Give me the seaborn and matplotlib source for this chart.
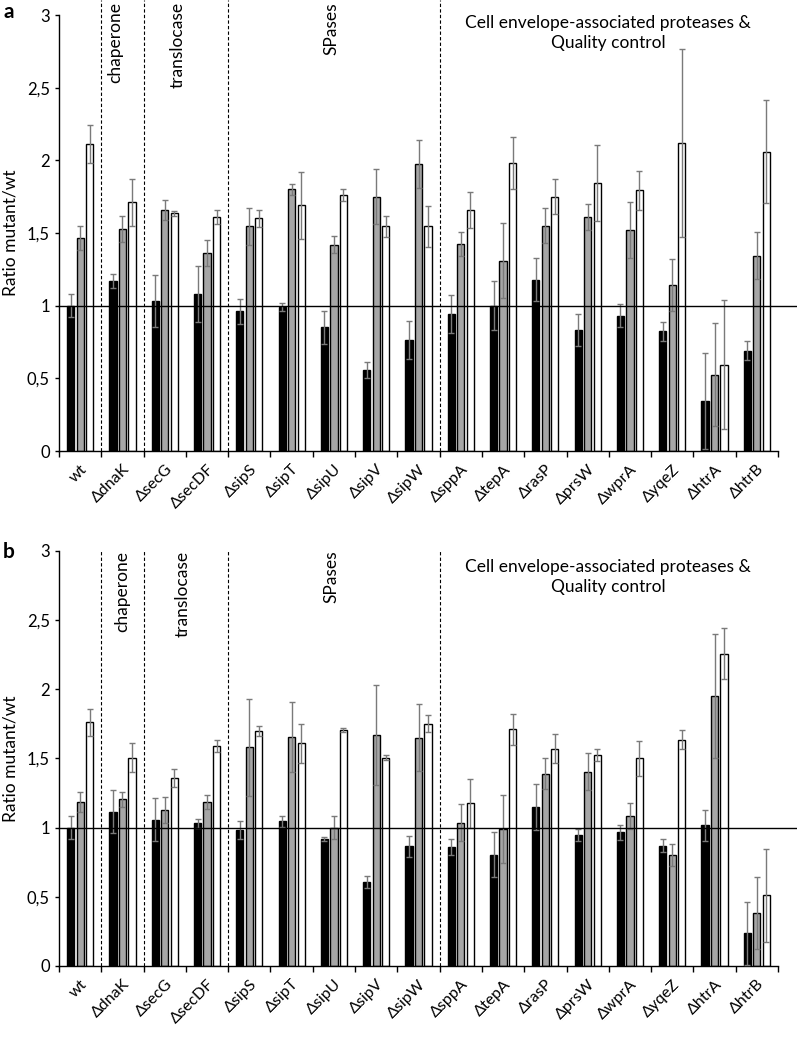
import numpy as np
import pandas as pd
import matplotlib
matplotlib.use('Agg')
import matplotlib.pyplot as plt
import seaborn as sns

# strains (x categories)
genes = ['wt', 'ΔdnaK', 'ΔsecG', 'ΔsecDF', 'ΔsipS', 'ΔsipT', 'ΔsipU', 'ΔsipV', 'ΔsipW',
         'ΔsppA', 'ΔtepA', 'ΔrasP', 'ΔprsW', 'ΔwprA', 'ΔyqeZ', 'ΔhtrA', 'ΔhtrB']
series = ['black', 'grey', 'white']

# panel a - means
a_black = [1.00, 1.17, 1.03, 1.08, 0.96, 0.99, 0.85, 0.555, 0.765, 0.94, 1.00, 1.18, 0.835, 0.93, 0.825, 0.345, 0.69]
a_grey = [1.465, 1.53, 1.66, 1.36, 1.545, 1.80, 1.42, 1.75, 1.975, 1.425, 1.31, 1.55, 1.61, 1.52, 1.14, 0.525, 1.345]
a_white = [2.11, 1.71, 1.635, 1.61, 1.60, 1.69, 1.76, 1.545, 1.545, 1.66, 1.98, 1.75, 1.845, 1.795, 2.12, 0.595, 2.06]
# panel a - error (+/-)
a_black_err = [0.08, 0.05, 0.18, 0.19, 0.085, 0.03, 0.115, 0.055, 0.13, 0.13, 0.17, 0.15, 0.11, 0.08, 0.065, 0.33, 0.065]
a_grey_err = [0.085, 0.09, 0.07, 0.09, 0.125, 0.04, 0.06, 0.19, 0.165, 0.08, 0.26, 0.12, 0.09, 0.19, 0.18, 0.355, 0.16]
a_white_err = [0.13, 0.16, 0.015, 0.05, 0.06, 0.23, 0.04, 0.075, 0.14, 0.125, 0.18, 0.12, 0.26, 0.135, 0.645, 0.445, 0.355]

# panel b - means
b_black = [1.00, 1.115, 1.055, 1.03, 0.98, 1.045, 0.915, 0.605, 0.865, 0.86, 0.805, 1.15, 0.945, 0.965, 0.87, 1.015, 0.235]
b_grey = [1.185, 1.205, 1.125, 1.185, 1.58, 1.655, 1.00, 1.67, 1.65, 1.035, 0.99, 1.39, 1.405, 1.085, 0.80, 1.95, 0.385]
b_white = [1.76, 1.505, 1.36, 1.59, 1.70, 1.61, 1.705, 1.505, 1.75, 1.175, 1.71, 1.57, 1.525, 1.50, 1.635, 2.255, 0.51]
# panel b - error (+/-)
b_black_err = [0.085, 0.155, 0.155, 0.03, 0.065, 0.04, 0.015, 0.045, 0.075, 0.06, 0.165, 0.165, 0.045, 0.055, 0.05, 0.11, 0.225]
b_grey_err = [0.07, 0.055, 0.095, 0.05, 0.35, 0.25, 0.08, 0.36, 0.24, 0.135, 0.245, 0.11, 0.135, 0.095, 0.08, 0.445, 0.26]
b_white_err = [0.10, 0.105, 0.065, 0.045, 0.035, 0.14, 0.015, 0.02, 0.06, 0.175, 0.11, 0.105, 0.045, 0.125, 0.07, 0.185, 0.335]

bar_colors = ['#000000', '#a6a6a6', '#ffffff']
err_color = '#7a7a7a'

plt.rcParams['font.family'] = ['Lato', 'DejaVu Sans']


def make_df(means, errs):
    rows = []
    for s, m, e in zip(series, means, errs):
        for g, v, ev in zip(genes, m, e):
            rows.append({'gene': g, 'series': s, 'value': v, 'err': ev})
    return pd.DataFrame(rows)


def draw_panel(ax, df, label_pos, dash_top, env_y):
    sns.barplot(data=df, x='gene', y='value', hue='series', order=genes, hue_order=series,
                palette=bar_colors, width=0.675, gap=0.245, edgecolor='black', linewidth=1,
                errorbar=None, legend=False, ax=ax, zorder=2)

    # error bars on top of each bar, taken from the bar containers
    for cont, s in zip(ax.containers, series):
        sub = df[df['series'] == s].set_index('gene').loc[genes]
        xs = [p.get_x() + p.get_width() / 2 for p in cont.patches]
        ys = [p.get_height() for p in cont.patches]
        ax.errorbar(xs, ys, yerr=sub['err'].values, fmt='none', ecolor=err_color,
                    elinewidth=1, capsize=2.5, capthick=1, zorder=3)

    ax.set_xlim(-0.5, 16.5)
    ax.set_ylim(0, 3)
    yt = np.arange(0, 3.01, 0.5)
    ax.set_yticks(yt)
    ax.set_yticklabels([('%g' % t).replace('.', ',') for t in yt], fontsize=12)
    ax.set_xticks(range(len(genes)))
    ax.set_xticklabels(genes, rotation=45, ha='right', rotation_mode='anchor', fontsize=11.5)
    ax.set_xticks(np.arange(-0.5, 17, 1), minor=True)
    ax.tick_params(axis='x', which='major', length=0, pad=8)
    ax.tick_params(axis='x', which='minor', length=4, width=1)
    ax.tick_params(axis='y', length=3, width=1)
    ax.set_xlabel('')
    ax.set_ylabel('Ratio mutant/wt', fontsize=12.5, labelpad=6)
    sns.despine(ax=ax)
    for sp in ['left', 'bottom']:
        ax.spines[sp].set_linewidth(1)

    # reference line at ratio 1
    ax.plot([-0.5, 16.95], [1, 1], color='black', lw=1, clip_on=False, zorder=4)

    # group separators
    for xb in [0.5, 1.5, 3.5, 8.5]:
        ax.plot([xb, xb], [0, dash_top], color='black', lw=0.8, ls=(0, (3, 2)),
                clip_on=False, zorder=1)

    for txt, (x, y) in zip(['chaperone', 'translocase', 'SPases'], label_pos):
        ax.text(x, y, txt, rotation=90, ha='center', va='top', fontsize=12.5)
    ax.text(12.48, env_y, 'Cell envelope-associated proteases &\nQuality control',
            ha='center', va='center', fontsize=12.5, linespacing=1.25)


fig = plt.figure(figsize=(7.97, 10.52), dpi=100)
W, H = 797, 1052
ax_a = fig.add_axes([59 / W, 1 - 451 / H, 719 / W, 436 / H])
ax_b = fig.add_axes([59 / W, 1 - 966 / H, 719 / W, 415.3 / H])

df_a = make_df([a_black, a_grey, a_white], [a_black_err, a_grey_err, a_white_err])
df_b = make_df([b_black, b_grey, b_white], [b_black_err, b_grey_err, b_white_err])

draw_panel(ax_a, df_a, [(0.82, 3.09), (2.31, 3.09), (5.93, 3.09)], 3.1, 2.877)
draw_panel(ax_b, df_b, [(0.99, 3.0), (2.43, 3.0), (5.95, 3.0)], 3.0, 2.81)

fig.text(3 / W, 1 - 12 / H, 'a', fontsize=15, fontweight='bold', va='center', ha='left')
fig.text(3 / W, 1 - 552 / H, 'b', fontsize=15, fontweight='bold', va='center', ha='left')

fig.savefig('out.png', dpi=100, facecolor='white')
